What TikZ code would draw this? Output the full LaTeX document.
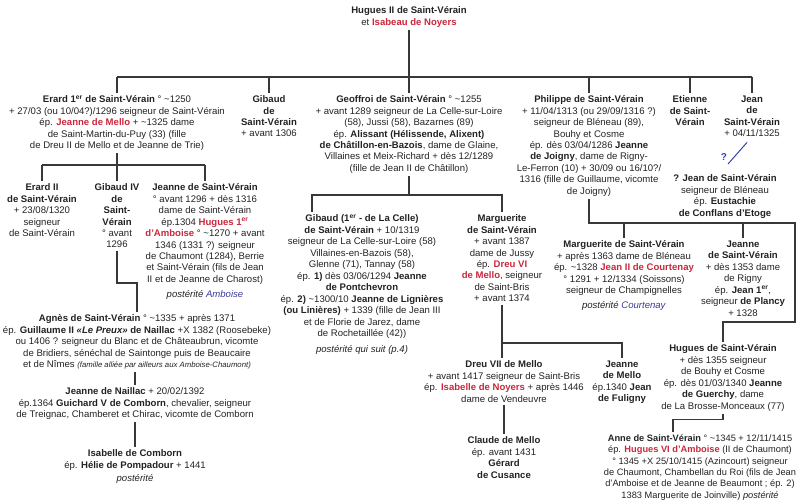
\documentclass[tikz,border=0pt]{standalone}
\usepackage{fontspec}
\setmainfont{Liberation Sans}
\usepackage{xcolor}
\usepackage{tikz}
\definecolor{ink}{HTML}{222222}
\definecolor{linegray}{HTML}{383838}
\definecolor{spousered}{HTML}{C8283C}
\definecolor{houseblue}{HTML}{3A3A9A}
\definecolor{queryblue}{HTML}{3344AA}
\newcommand{\spouse}[1]{\textcolor{spousered}{\textbf{#1}}}
\newcommand{\house}[1]{\textcolor{houseblue}{#1}}
\newcommand{\er}{\textsuperscript{er}}
\newcommand{\ca}{\textasciitilde}

\begin{document}
\begin{tikzpicture}[x=1bp, y=-1bp,
    person/.style={align=center, anchor=north, inner sep=2.5bp, text=ink,
      font=\fontsize{9.6}{11.5}\selectfont},
    tree/.style={draw=linegray, line width=1.2bp},
    qline/.style={draw=queryblue, line width=1bp}]
  \useasboundingbox (0,0) rectangle (800,503);

  % first generation
  \node[person] (root) at (409,4) {\textbf{Hugues II de Saint-Vérain}\\et \spouse{Isabeau de Noyers}};

  \node[person] (erard) at (117,93) {\textbf{Erard 1\er{} de Saint-Vérain} ° \ca1250\\+ 27/03 (ou 10/04?)/1296 seigneur de Saint-Vérain\\ép. \spouse{Jeanne de Mello} + \ca1325 dame\\de Saint-Martin-du-Puy (33) (fille\\de Dreu II de Mello et de Jeanne de Trie)};
  \node[person] (gibaud) at (269,93) {\textbf{Gibaud}\\\textbf{de}\\\textbf{Saint-Vérain}\\+ avant 1306};
  \node[person] (geoffroi) at (409,93) {\textbf{Geoffroi de Saint-Vérain} ° \ca1255\\+ avant 1289 seigneur de La Celle-sur-Loire\\(58), Jussi (58), Bazarnes (89)\\ép. \textbf{Alissant (Hélissende, Alixent)}\\\textbf{de Châtillon-en-Bazois}, dame de Glaine,\\Villaines et Meix-Richard + dès 12/1289\\(fille de Jean II de Châtillon)};
  \node[person] (philippe) at (589,93) {\textbf{Philippe de Saint-Vérain}\\+ 11/04/1313 (ou 29/09/1316 ?)\\seigneur de Bléneau (89),\\Bouhy et Cosme\\ép. dès 03/04/1286 \textbf{Jeanne}\\\textbf{de Joigny}, dame de Rigny-\\Le-Ferron (10) + 30/09 ou 16/10?/\\1316 (fille de Guillaume, vicomte\\de Joigny)};
  \node[person] (etienne) at (690,93) {\textbf{Etienne}\\\textbf{de Saint-}\\\textbf{Vérain}};
  \node[person] (jean) at (752,93) {\textbf{Jean}\\\textbf{de}\\\textbf{Saint-Vérain}\\+ 04/11/1325};

  % branch of Erard
  \node[person] (erardii) at (42,181) {\textbf{Erard II}\\\textbf{de Saint-Vérain}\\+ 23/08/1320\\seigneur\\de Saint-Vérain};
  \node[person] (gibaudiv) at (117,181) {\textbf{Gibaud IV}\\\textbf{de}\\\textbf{Saint-}\\\textbf{Vérain}\\° avant\\1296};
  \node[person] (jeannea) at (205,181) {\textbf{Jeanne de Saint-Vérain}\\° avant 1296 + dès 1316\\dame de Saint-Vérain\\ép.1304 \spouse{Hugues 1\er}\\\spouse{d'Amboise} ° \ca1270 + avant\\1346 (1331 ?) seigneur\\de Chaumont (1284), Berrie\\et Saint-Vérain (fils de Jean\\II et de Jeanne de Charost)\\[4bp]\textit{postérité} \house{\textit{Amboise}}};
  \node[person] (agnes) at (137,312) {\textbf{Agnès de Saint-Vérain} ° \ca1335 + après 1371\\ép. \textbf{Guillaume II \textit{«Le Preux»} de Naillac} +X 1382 (Roosebeke)\\ou 1406 ? seigneur du Blanc et de Châteaubrun, vicomte\\de Bridiers, sénéchal de Saintonge puis de Beaucaire\\et de Nîmes {\fontsize{7.8}{11.5}\selectfont\textit{(famille alliée par ailleurs aux Amboise-Chaumont)}}};
  \node[person] (jeannen) at (135,385) {\textbf{Jeanne de Naillac} + 20/02/1392\\ép.1364 \textbf{Guichard V de Comborn}, chevalier, seigneur\\de Treignac, Chamberet et Chirac, vicomte de Comborn};
  \node[person] (isabellec) at (135,447) {\textbf{Isabelle de Comborn}\\ép. \textbf{Hélie de Pompadour} + 1441\\[2bp]\textit{postérité}};

  % branch of Geoffroi
  \node[person] (gibaudlc) at (362,212) {\textbf{Gibaud (1\er{} - de La Celle)}\\\textbf{de Saint-Vérain} + 10/1319\\seigneur de La Celle-sur-Loire (58)\\Villaines-en-Bazois (58),\\Glenne (71), Tannay (58)\\ép. \textbf{1)} dès 03/06/1294 \textbf{Jeanne}\\\textbf{de Pontchevron}\\ép. \textbf{2)} \ca1300/10 \textbf{Jeanne de Lignières}\\\textbf{(ou Linières)} + 1339 (fille de Jean III\\et de Florie de Jarez, dame\\de Rochetaillée (42))\\[5bp]\textit{postérité qui suit (p.4)}};
  \node[person] (margueritem) at (502,212) {\textbf{Marguerite}\\\textbf{de Saint-Vérain}\\+ avant 1387\\dame de Jussy\\ép. \spouse{Dreu VI}\\\spouse{de Mello}, seigneur\\de Saint-Bris\\+ avant 1374};
  \node[person] (dreu) at (504,358) {\textbf{Dreu VII de Mello}\\+ avant 1417 seigneur de Saint-Bris\\ép. \spouse{Isabelle de Noyers} + après 1446\\dame de Vendeuvre};
  \node[person] (claude) at (504,434) {\textbf{Claude de Mello}\\ép. avant 1431\\\textbf{Gérard}\\\textbf{de Cusance}};
  \node[person] (jeannem) at (622,358) {\textbf{Jeanne}\\\textbf{de Mello}\\ép.1340 \textbf{Jean}\\\textbf{de Fuligny}};

  % branch of Philippe
  \node[person] (margueritec) at (624,238) {\textbf{Marguerite de Saint-Vérain}\\+ après 1363 dame de Bléneau\\ép. \ca1328 \spouse{Jean II de Courtenay}\\° 1291 + 12/1334 (Soissons)\\seigneur de Champignelles\\[4bp]\textit{postérité} \house{\textit{Courtenay}}};
  \node[person] (jeannep) at (743,238) {\textbf{Jeanne}\\\textbf{de Saint-Vérain}\\+ dès 1353 dame\\de Rigny\\ép. \textbf{Jean 1\er},\\seigneur \textbf{de Plancy}\\+ 1328};
  \node[person] (huguesb) at (723,342) {\textbf{Hugues de Saint-Vérain}\\+ dès 1355 seigneur\\de Bouhy et Cosme\\ép. dès 01/03/1340 \textbf{Jeanne}\\\textbf{de Guerchy}, dame\\de La Brosse-Monceaux (77)};
  \node[person, font=\fontsize{9.3}{11.4}\selectfont] (anne) at (700,432) {\textbf{Anne de Saint-Vérain} ° \ca1345 + 12/11/1415\\ép. \spouse{Hugues VI d'Amboise} (II de Chaumont)\\° 1345 +X 25/10/1415 (Azincourt) seigneur\\de Chaumont, Chambellan du Roi (fils de Jean\\d'Amboise et de Jeanne de Beaumont ; ép. 2)\\1383 Marguerite de Joinville) \textit{postérité}};

  % branch of Jean (uncertain)
  \node[person] (jeanb) at (725,172) {\textbf{? Jean de Saint-Vérain}\\seigneur de Bléneau\\ép. \textbf{Eustachie}\\\textbf{de Conflans d'Etoge}};
  \node[text=queryblue, font=\fontsize{10}{12}\selectfont\bfseries, inner sep=0] (qmark) at (724,157) {?};

  % connectors
  \coordinate (topbus) at (0,77);
  \draw[tree] (root.south) -- (root.south |- topbus);
  \draw[tree] (erard.north |- topbus) -- (jean.north |- topbus);
  \foreach \kid in {erard,gibaud,geoffroi,philippe,etienne,jean}
    \draw[tree] (\kid.north |- topbus) -- (\kid.north);

  \coordinate (erardbus) at (0,165);
  \draw[tree] (erard.south) -- (erard.south |- erardbus);
  \draw[tree] (erardii.north |- erardbus) -- (jeannea.north |- erardbus);
  \foreach \kid in {erardii,gibaudiv,jeannea}
    \draw[tree] (\kid.north |- erardbus) -- (\kid.north);
  \coordinate (agnesbend) at (0,283);
  \draw[tree] (gibaudiv.south) -- (gibaudiv.south |- agnesbend) -| (agnes.north);
  \draw[tree] (agnes.south -| jeannen.north) -- (jeannen.north);
  \draw[tree] (jeannen.south) -- (isabellec.north);

  \coordinate (geoffbus) at (0,195);
  \draw[tree] (geoffroi.south) -- (geoffroi.south |- geoffbus);
  \draw[tree] ([xshift=-50bp]gibaudlc.north) |- (margueritem.north |- geoffbus) -- (margueritem.north);
  \coordinate (mellobus) at (0,343);
  \draw[tree] (margueritem.south) -- (margueritem.south |- dreu.north);
  \draw[tree] (margueritem.south |- mellobus) -| (jeannem.north);
  \draw[tree] (dreu.south) -- (claude.north);

  \coordinate (philbus) at (795,223);
  \coordinate (philbend) at (795,322);
  \draw[tree] (philippe.south) |- (philbus) -- (philbend) -| (huguesb.north);
  \foreach \kid in {margueritec,jeannep}
    \draw[tree] (\kid.north |- philbus) -- (\kid.north);
  \draw[tree] (huguesb.south) -- ++(0,6) -| ([xshift=-27bp]anne.north);

  \draw[qline] ([xshift=-5bp,yshift=-3bp]jean.south) -- ([xshift=3bp,yshift=8bp]jeanb.north);
\end{tikzpicture}
\end{document}
